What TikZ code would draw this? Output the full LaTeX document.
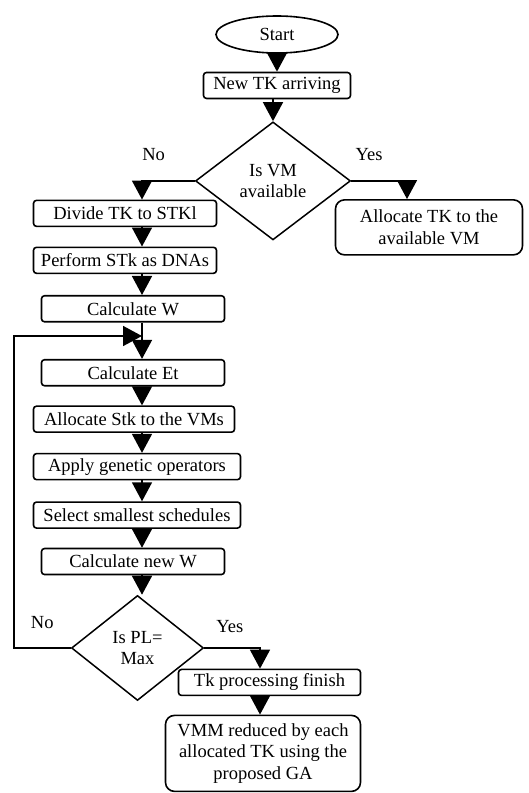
\documentclass[tikz,border=0pt]{standalone}
\usepackage{fontspec}
\setmainfont{Liberation Serif}
\usepackage{tikz}
\usetikzlibrary{shapes.geometric,arrows.meta}
\tikzstyle{terminator} = [ellipse, draw, line width=1.6pt, text centered, minimum width=122pt, minimum height=37pt, inner sep=0pt]
\tikzstyle{process} = [rectangle, draw, line width=1.6pt, text centered, rounded corners=3pt, minimum height=26pt, inner sep=2pt]
\tikzstyle{result} = [rectangle, draw, line width=1.6pt, align=center, rounded corners=9pt, inner sep=2pt]
\tikzstyle{decision} = [diamond, draw, line width=1.5pt, align=center, inner sep=0pt]
\tikzstyle{connector} = [line width=1.6pt, -{Triangle[length=19pt,width=20pt]}]

\begin{document}
\begin{tikzpicture}[x=1pt, y=-1pt, every node/.style={font=\fontsize{18.5}{21.5}\selectfont}]
        \useasboundingbox (0,0) rectangle (529,793);
        \coordinate (spine) at (142,0);
        \coordinate (yescol) at (407,0);
        \coordinate (col2) at (260,0);
        \coordinate (loopin) at (142,336);
        \node (start) [terminator] at (277,34.5) {Start};
        \node (newtk) [process, below of = start, yshift = -22.5pt, minimum width=147pt] {New TK arriving};
        \node (isvm) [decision, below of = newtk, xshift = -4pt, yshift = -67pt, minimum width=155pt, minimum height=118pt] {Is VM\\available};
        \node (divide) [process, below of = isvm, xshift = -148pt, yshift = -4pt, minimum width=183pt] {Divide TK to STKl};
        \node (allocvm) [result, below of = isvm, xshift = 156pt, yshift = -18pt, minimum width=187pt, minimum height=55pt] {Allocate TK to the\\available VM};
        \node (perform) [process, below of = divide, yshift = -18.5pt, minimum width=183pt] {Perform STk as DNAs};
        \node (calcw) [process, below of = perform, xshift = 8pt, yshift = -20pt, minimum width=183pt] {Calculate W};
        \node (calcet) [process, below of = calcw, yshift = -35.5pt, minimum width=183pt] {Calculate Et};
        \node (allocstk) [process, below of = calcet, xshift = 1pt, yshift = -18pt, minimum width=201pt] {Allocate Stk to the VMs};
        \node (apply) [process, below of = allocstk, xshift = 3pt, yshift = -19pt, minimum width=207pt] {Apply genetic operators};
        \node (select) [process, below of = apply, yshift = -20pt, minimum width=207pt] {Select smallest schedules};
        \node (calcnw) [process, below of = select, xshift = -4pt, yshift = -18pt, minimum width=183pt] {Calculate new W};
        \node (ispl) [decision, below of = calcnw, xshift = 4.5pt, yshift = -58pt, minimum width=132pt, minimum height=105pt] {Is PL=\\Max};
        \node (finish) [process, below of = ispl, xshift = 132pt, yshift = -6pt, minimum width=182pt] {Tk processing finish};
        \node (vmm) [result, below of = finish, xshift = -6.5pt, yshift = -42.5pt, minimum width=195pt, minimum height=76pt] {VMM reduced by each\\allocated TK using the\\proposed GA};
        \draw [connector] (start) -- (newtk);
        \draw [connector] (newtk.south -| isvm.north) -- (isvm.north);
        \draw [connector] (isvm.west) -| node[pos=0.39, above=16pt] {No} (divide.north -| spine);
        \draw [connector] (isvm.east) -| node[pos=0.16, above=16pt] {Yes} (allocvm.north -| yescol);
        \draw [connector] (divide.south -| spine) -- (perform.north -| spine);
        \draw [connector] (perform.south -| spine) -- (calcw.north -| spine);
        \draw [connector] (calcw.south -| spine) -- (calcet.north -| spine);
        \draw [connector] (calcet.south -| spine) -- (allocstk.north -| spine);
        \draw [connector] (allocstk.south -| spine) -- (apply.north -| spine);
        \draw [connector] (apply.south -| spine) -- (select.north -| spine);
        \draw [connector] (select.south -| spine) -- (calcnw.north -| spine);
        \draw [connector] (calcnw.south -| spine) -- (ispl.north -| spine);
        \draw [connector] (ispl.west) -- node[above=15pt] {No} ++(-57,0) |- (loopin);
        \draw [connector] (ispl.east) -| node[pos=0.23, above=11pt] {Yes} (finish.north -| col2);
        \draw [connector] (finish.south -| col2) -- (vmm.north -| col2);
    \end{tikzpicture}
\end{document}
